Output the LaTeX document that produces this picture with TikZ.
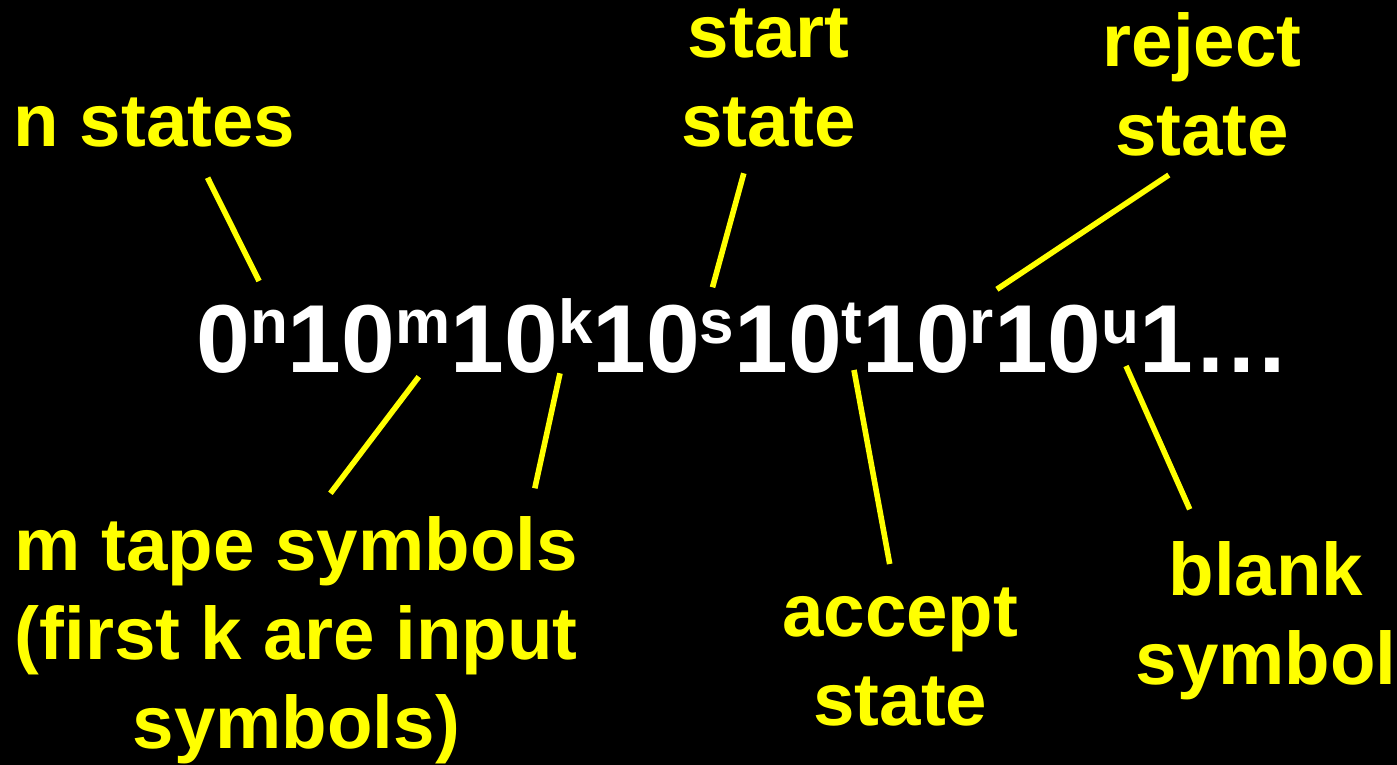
\documentclass[tikz,border=0pt]{standalone}
\usepackage{fontspec}
\setmainfont{Liberation Sans}
\definecolor{labelyellow}{HTML}{FFFF00}
% raised, smaller exponent in the encoded string
\newcommand\supscr[1]{\raisebox{14.4pt}{\fontsize{31}{31}\selectfont #1}}
\begin{document}
\begin{tikzpicture}[x=0.5pt,y=-0.5pt,
  lbl/.style={text=labelyellow, font=\bfseries\fontsize{37.25}{44.5}\selectfont,
              inner sep=0pt, align=center, anchor=base},
  pointer/.style={draw=labelyellow, line width=2.8pt}]
\fill[black] (0,0) rectangle (1397,765);
\useasboundingbox (0,0) rectangle (1397,765);

% the encoding string
\node[inner sep=0pt, anchor=base west, text=white,
      font=\bfseries\fontsize{48.3}{50}\selectfont] (code) at (196,372)
  {0\supscr{n}10\supscr{m}10\supscr{k}10\supscr{s}10\supscr{t}10\supscr{r}10\supscr{u}1…};

% labels (anchored at the baseline of their last line)
\node[lbl] (nstates) at (154.5,146.7) {n states};
\node[lbl] (start)   at (768.5,146.7) {start\\state};
\node[lbl] (reject)  at (1202,155.5)  {reject\\state};
\node[lbl] (tape)    at (296.3,748.3) {m tape symbols\\(first k are input\\symbols)};
\node[lbl] (accept)  at (900.3,725)   {accept\\state};
\node[lbl] (blank)   at (1266,684)    {blank\\symbol};

% pointer end points
\coordinate (n1) at (207.6,177.7);  \coordinate (n2) at (259,281);
\coordinate (s1) at (743.8,173.3);  \coordinate (s2) at (712.5,287.3);
\coordinate (r1) at (1168.8,175);   \coordinate (r2) at (996.9,289.3);
\coordinate (m1) at (418.8,376.7);  \coordinate (m2) at (330.4,493.3);
\coordinate (k1) at (560,373.3);    \coordinate (k2) at (534.8,488.3);
\coordinate (a1) at (854,370);      \coordinate (a2) at (889.7,564);
\coordinate (b1) at (1126,366);     \coordinate (b2) at (1189.7,509.3);

\draw[pointer] (n1) -- (n2);
\draw[pointer] (s1) -- (s2);
\draw[pointer] (r1) -- (r2);
\draw[pointer] (m1) -- (m2);
\draw[pointer] (k1) -- (k2);
\draw[pointer] (a1) -- (a2);
\draw[pointer] (b1) -- (b2);
\end{tikzpicture}
\end{document}
